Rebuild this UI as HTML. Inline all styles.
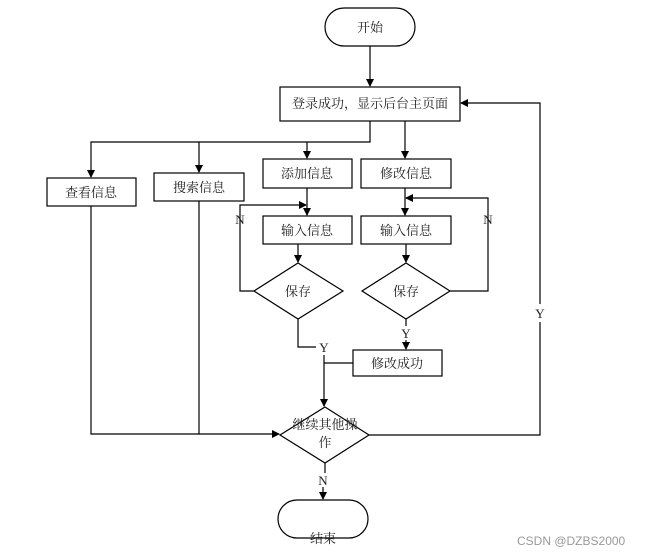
<!DOCTYPE html>
<html><head><meta charset="utf-8"><style>
body{margin:0;background:#fff;width:649px;height:555px;overflow:hidden}
text{font-family:"Liberation Serif","Noto Serif CJK SC",serif;font-size:13px;fill:#222}
</style></head><body>
<svg width="649" height="555" viewBox="0 0 649 555" xmlns="http://www.w3.org/2000/svg">
<defs><marker id="a" markerWidth="8" markerHeight="8" refX="7" refY="4" orient="auto" markerUnits="userSpaceOnUse"><path d="M0,0L8,4L0,8z" fill="#000"/></marker></defs>
<g fill="none" stroke="#000" stroke-width="1.2">
<rect x="325" y="8" width="90" height="38" rx="19" fill="#fff"/>
<rect x="280" y="87" width="180" height="34"/>
<rect x="263" y="159" width="89" height="29"/>
<rect x="361" y="159" width="90" height="29"/>
<rect x="47" y="178" width="89" height="28"/>
<rect x="154" y="173" width="90" height="28"/>
<rect x="263" y="216" width="89" height="28"/>
<rect x="361" y="216" width="90" height="28"/>
<polygon points="298,263 343,291 298,319 254,291"/>
<polygon points="406,263 450,291 406,319 362,291"/>
<rect x="353" y="350" width="89" height="26"/>
<polygon points="325,407 369,435 325,463 280,435"/>
<rect x="278" y="500" width="90" height="38" rx="19"/>
<path d="M370,46V86" marker-end="url(#a)"/>
<path d="M370,121V142H91V177" marker-end="url(#a)"/>
<path d="M199,142V172" marker-end="url(#a)"/>
<path d="M307,142V158" marker-end="url(#a)"/>
<path d="M405,121V158" marker-end="url(#a)"/>
<path d="M307,188V215" marker-end="url(#a)"/>
<path d="M405,188V215" marker-end="url(#a)"/>
<path d="M254,291H240V205H306" marker-end="url(#a)"/>
<path d="M450,291H488V198H406" marker-end="url(#a)"/>
<path d="M298,244V262" marker-end="url(#a)"/>
<path d="M406,244V262" marker-end="url(#a)"/>
<path d="M406,319V326M406,340V349" marker-end="url(#a)"/>
<path d="M298,319V347H316"/>
<path d="M353,363H324"/>
<path d="M324,355V406" marker-end="url(#a)"/>
<path d="M91,206V434H279" marker-end="url(#a)"/>
<path d="M199,201V434"/>
<path d="M369,435H540V322M540,304V103H461" marker-end="url(#a)"/>
<path d="M325,463V473M323,487V499" marker-end="url(#a)"/>
</g>
<g text-anchor="middle">
<text x="370" y="32">开始</text>
<text x="370" y="108">登录成功，显示后台主页面</text>
<text x="307" y="178">添加信息</text>
<text x="406" y="178">修改信息</text>
<text x="91" y="197">查看信息</text>
<text x="199" y="192">搜索信息</text>
<text x="307" y="235">输入信息</text>
<text x="406" y="235">输入信息</text>
<text x="298" y="296">保存</text>
<text x="406" y="296">保存</text>
<text x="397" y="368">修改成功</text>
<text x="325" y="429">继续其他操</text>
<text x="325" y="447">作</text>
<text x="323" y="543">结束</text>
<text x="240" y="224">N</text>
<text x="488" y="224">N</text>
<text x="406" y="338">Y</text>
<text x="324" y="352">Y</text>
<text x="540" y="318">Y</text>
<text x="323" y="485">N</text>
</g>
<text x="517" y="545" style="font-family:'Liberation Sans',sans-serif;font-size:12px;fill:#999">CSDN @DZBS2000</text>
</svg>
</body></html>
